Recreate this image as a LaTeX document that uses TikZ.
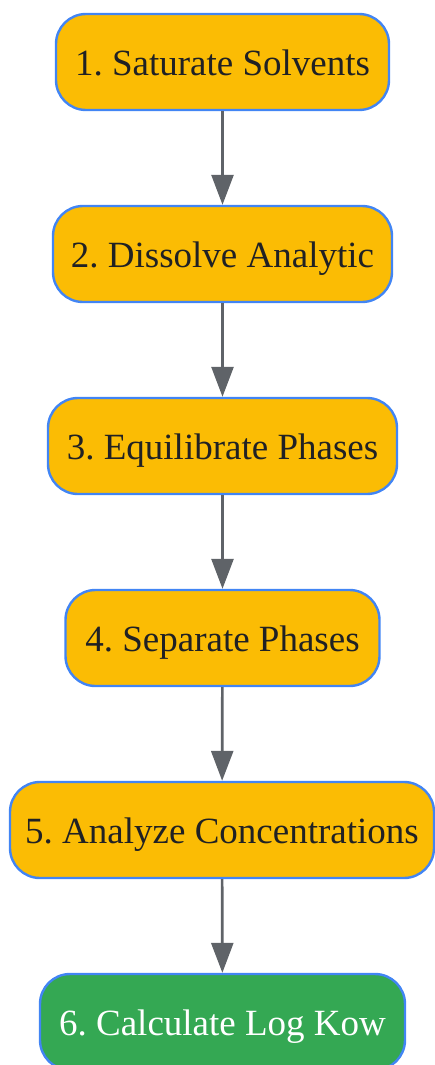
\documentclass[tikz,border=0pt]{standalone}
\usepackage{fontspec}
\setmainfont{Liberation Serif}
\usetikzlibrary{arrows.meta}
\definecolor{ybox}{HTML}{FBBC04}
\definecolor{gbox}{HTML}{34A853}
\definecolor{bord}{HTML}{4285F4}
\definecolor{arr}{HTML}{5F6368}
\definecolor{txt}{HTML}{202124}
\frenchspacing
\begin{document}
\begin{tikzpicture}[x=1pt,y=1pt,
  stepbox/.style={draw=bord, line width=2.4pt, fill=ybox, rounded corners=30pt,
    minimum height=96pt, inner sep=0pt, text=txt, text height=30pt, text depth=3pt,
    font=\fontsize{37}{40}\selectfont, anchor=center},
  endbox/.style={stepbox, fill=gbox, text=white},
  conn/.style={draw=arr, line width=2.7pt, -{Triangle[width=22pt,length=30pt]}}]
\useasboundingbox (0,0) rectangle (435,-1065);
\clip (0,0) rectangle (435,-1065);
\node[stepbox, minimum width=333pt] (n1) at (222.5,-62) {1. Saturate Solvents};
\node[stepbox, minimum width=339pt] (n2) at (222.5,-254) {2. Dissolve Analytic};
\node[stepbox, minimum width=349pt] (n3) at (222.5,-446) {3. Equilibrate Phases};
\node[stepbox, minimum width=314pt] (n4) at (222.5,-638) {4. Separate Phases};
\node[stepbox, minimum width=424pt] (n5) at (222,-830) {5. Analyze Concentrations};
\node[endbox, minimum width=365pt] (n6) at (222.5,-1022) {6. Calculate Log Kow};
\draw[conn] (n1) -- (n2);
\draw[conn] (n2) -- (n3);
\draw[conn] (n3) -- (n4);
\draw[conn] (n4) -- (n5);
\draw[conn] (n5) -- (n6);
\end{tikzpicture}
\end{document}
